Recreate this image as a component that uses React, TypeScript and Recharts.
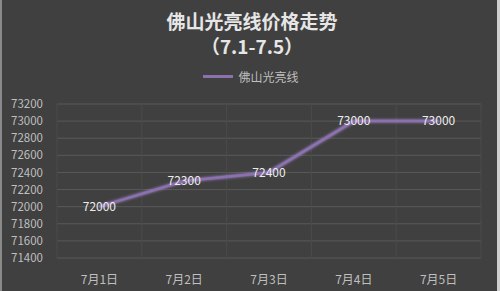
import { LineChart, Line, XAxis, YAxis, CartesianGrid, LabelList } from "recharts";

const days = ["7月1日", "7月2日", "7月3日", "7月4日", "7月5日"];
const prices = [72000, 72300, 72400, 73000, 73000];
const yTicks = [71400, 71600, 71800, 72000, 72200, 72400, 72600, 72800, 73000, 73200];
const seriesName = "佛山光亮线";
const title = "佛山光亮线价格走势";
const subtitle = "（7.1-7.5）";

const data = days.map((day, i) => ({ day, price: prices[i] }));

const FONT = "'Noto Sans CJK SC', 'Noto Sans', sans-serif";

export default function App() {
  return (
    <div style={{ position: "fixed", left: 0, top: 0, width: 500, height: 291, background: "#404040", boxSizing: "border-box", borderLeft: "2px solid #8a8a8a", borderRight: "3px solid #cfcfcf" }}>
      <style>{`.recharts-line-curve { filter: drop-shadow(0 0 1.5px #a58bd0); }`}</style>
      <div style={{ position: "absolute", top: 8, left: 0, width: 500, textAlign: "center", fontFamily: FONT, fontWeight: "bold", fontSize: 19, lineHeight: "25px", color: "#e6e6e6" }}>
        <div>{title}</div>
        <div>{subtitle}</div>
      </div>
      {/* legend */}
      <div style={{ position: "absolute", top: 68, left: 0, width: 498, display: "flex", justifyContent: "center", alignItems: "center", fontFamily: FONT, fontSize: 12, color: "#bfbfbf" }}>
        <span style={{ display: "inline-block", width: 30, height: 3, background: "#8c70b0", marginRight: 5 }} />
        <span>{seriesName}</span>
      </div>
      <div style={{ position: "absolute", left: -2, top: 0 }}>
        <LineChart width={500} height={291} data={data} margin={{ top: 104, right: 19, bottom: 0, left: 0 }}>
          <CartesianGrid stroke="#595959" vertical={false} />
          <CartesianGrid
            stroke="#4a4a4a"
            horizontal={false}
            verticalCoordinatesGenerator={({ offset }: any) =>
              days.map((_, i) => offset.left + (i + 1) * (offset.width / days.length)).concat([offset.left])
            }
          />
          <XAxis dataKey="day" scale="band" height={33} axisLine={false} tickLine={false} tickMargin={11} tick={{ fill: "#bfbfbf", fontSize: 12, fontFamily: FONT }} />
          <YAxis width={57} domain={[71400, 73200]} ticks={yTicks} interval={0} axisLine={false} tickLine={false} tickMargin={8} tick={{ fill: "#bfbfbf", fontSize: 11.5, fontFamily: FONT }} />
          <Line type="linear" dataKey="price" name={seriesName} stroke="#8c70b0" strokeWidth={2.5} dot={false} isAnimationActive={false}>
            <LabelList dataKey="price" position="center" fill="#ececec" fontSize={12} fontFamily={FONT} />
          </Line>
        </LineChart>
      </div>
    </div>
  );
}
